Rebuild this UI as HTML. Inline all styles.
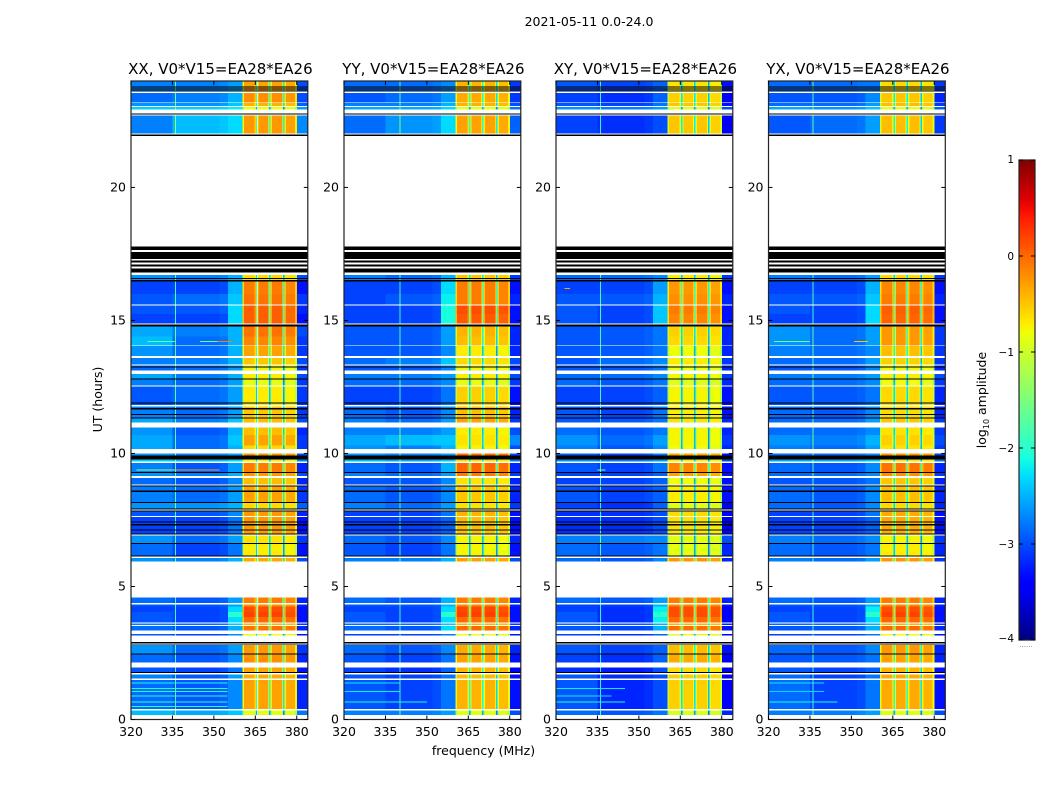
<!DOCTYPE html>
<html lang="en">
<head>
<meta charset="utf-8">
<title>2021-05-11 0.0-24.0</title>
<style>
html,body{margin:0;padding:0;background:#fff;}
svg{display:block;font-family:"DejaVu Sans","Liberation Sans",sans-serif;fill:#000;}
</style>
</head>
<body>
<svg id="chart" xmlns="http://www.w3.org/2000/svg" width="1050" height="800" viewBox="0 0 1050 800">
<rect width="1050" height="800" fill="#fff"/>
<text x="589" y="26" font-size="12.5" text-anchor="middle">2021-05-11 0.0-24.0</text>
<text x="483.5" y="755" font-size="12.5" text-anchor="middle">frequency (MHz)</text>
<text x="102" y="399.5" font-size="12.5" text-anchor="middle" transform="rotate(-90 102 399.5)">UT (hours)</text>
<text x="986" y="400" font-size="12.5" text-anchor="middle" transform="rotate(-90 986 400)">log<tspan font-size="8" dy="3">10</tspan><tspan dy="-3"> amplitude</tspan></text>
<text x="1026" y="647" font-size="7" fill="#777" text-anchor="middle">......</text>
</svg>
<script>
const panelTitles = ["XX, V0*V15=EA28*EA26","YY, V0*V15=EA28*EA26","XY, V0*V15=EA28*EA26","YX, V0*V15=EA28*EA26"];
const freqTicks = [320,335,350,365,380];
const hourTicks = [0,5,10,15,20];
const colorTicks = [-4,-3,-2,-1,0,1];
const spurFreqs = [336,340,336,336];

/* spectral channel groups: [start MHz, end MHz, level group, offset in log10 amplitude]
   group 0 = left low band, 1 = mid low band, 2 = shoulder, 3 = high band */
const channels = [
[320,335,0,-0.15],[335,352,1,-0.15],[352,355.2,1,-0.1],[355.2,360.4,2,-0.1],
[360.4,360.9,3,-0.4],[360.9,364.7,3,0.1],[364.7,365.2,3,-0.2],[365.2,365.7,3,-1.6],[365.7,366.2,3,-0.35],
[366.2,369.6,3,0.1],[369.6,370,3,-0.2],[370,370.5,3,-1.6],[370.5,371,3,-0.3],[371,374.7,3,0.1],
[374.7,375,3,-0.2],[375,375.6,3,-1.8],[375.6,376.1,3,-0.3],[376.1,379.4,3,0.05],[379.4,380,3,-0.35],
[380,384,1,-0.4]];

/* observed time bands in UT hours; the gaps between them are flagged (white) */
const timeBands = [
[.17,.33],[.39,1.485],[1.55,1.70],[1.78,1.96],[2.135,2.46],[2.46,2.80],[3.15,3.21],[3.34,3.51],[3.55,3.60],
[3.65,3.85],[3.85,4.05],[4.05,4.25],[4.25,4.33],[4.37,4.58],[5.93,6.07],[6.12,6.59],[6.59,6.91],[6.96,7.62],
[7.65,7.85],[7.90,8.15],[8.15,8.75],[8.84,9.07],[9.15,9.31],[9.31,9.65],[9.69,9.80],[9.90,10.0],[10.17,10.3],
[10.3,10.7],[10.7,10.98],[11.16,11.35],[11.35,11.76],[11.82,12.51],[12.55,12.80],[12.80,12.99],[13.11,13.31],
[13.35,13.59],[13.66,14.03],[14.06,14.4],[14.4,14.77],[14.89,15.25],[15.25,15.57],[15.60,16.0],[16.0,16.46],
[16.46,16.71],[22.03,22.71],[22.93,23.03],[23.06,23.17],[23.19,23.55],[23.60,24]];

/* zero-amplitude (black) scans in UT hours */
const blackBands = [
[1.74,1.78],[2.46,2.49],[2.82,2.85],[2.89,2.92],[6.12,6.16],[6.59,6.63],[6.96,7.0],[7.12,7.15],[7.30,7.34],[7.40,7.44],
[7.82,7.86],[7.90,7.94],[8.13,8.17],[8.56,8.60],[8.75,8.80],[9.26,9.31],[9.78,9.92],[11.31,11.35],[11.45,11.49],[11.66,11.70],
[11.89,11.92],[12.79,12.82],[13.23,13.26],[14.77,14.85],[16.46,16.52],[16.56,16.59],[16.80,16.96],[17.02,17.10],[17.17,17.25],
[17.30,17.57],[17.65,17.77],[21.93,21.98],[22.75,22.78],[23.60,23.64],[23.68,23.72],[23.763,23.80]];

/* per band: [left low band, mid low band, shoulder, high band] in log10 amplitude */
const levelsXX = [
[-2.3,-2.4,-2.3,-.95],[-2.7,-2.8,-2.6,-.4],[-2.6,-2.8,-2.5,-.45],[-2.8,-2.9,-2.7,-.4],[-2.7,-2.8,-2.6,-.3],[-2.5,-2.7,-2.5,-.35],
[-2.8,-2.9,-2.6,-.9],[-2.7,-2.8,-2.4,-.15],[-2.6,-2.7,-2.3,-.5],[-2.8,-2.9,-2.2,-.1],[-2.8,-2.9,-1.9,.1],[-2.9,-2.9,-2.2,.05],
[-2.8,-2.8,-2.5,-.3],[-2.7,-2.8,-2.5,-.2],[-2.5,-2.6,-2.4,-.45],[-2.7,-2.9,-2.7,-.8],[-2.5,-2.7,-2.5,-.75],[-2.9,-2.9,-2.7,-.35],
[-2.8,-2.8,-2.6,-.35],[-2.5,-2.5,-2.4,-.7],[-2.6,-2.7,-2.5,-.4],[-2.7,-2.8,-2.6,-.55],[-2.5,-2.6,-2.4,-.35],[-2.6,-2.8,-2.5,-.2],
[-2.2,-2.3,-2.2,-.8],[-2.5,-2.6,-2.5,-.3],[-2.4,-2.7,-2.4,-.7],[-2.4,-2.7,-2.3,-.4],[-2.5,-2.8,-2.4,-.55],[-2.4,-2.6,-2.3,-.55],
[-2.6,-2.7,-2.5,-.6],[-2.8,-2.7,-2.5,-.8],[-2.6,-2.7,-2.5,-.95],[-2.4,-2.6,-2.4,-.8],[-2.7,-2.7,-2.5,-.85],[-2.6,-2.6,-2.4,-.6],
[-2.5,-2.7,-2.4,-.4],[-2.3,-2.7,-2.4,-.25],[-2.4,-2.6,-2.4,-.15],[-2.9,-2.9,-2.2,-.05],[-2.8,-2.8,-2.2,-.05],[-2.8,-2.7,-2.3,-.15],
[-2.9,-2.9,-2.4,-.2],[-2.5,-2.6,-2.4,-.7],[-2.6,-2.3,-2.2,-.35],[-2.2,-2.2,-2.1,-.9],[-2.5,-2.5,-2.3,-.5],[-2.7,-2.6,-2.4,-.3],
[-2.6,-2.6,-2.5,-.4]];
const levelsYY = [
[-2.6,-2.6,-2.5,-.95],[-2.8,-2.9,-2.7,-.5],[-2.8,-2.9,-2.7,-.55],[-2.9,-3,-2.8,-.5],[-2.8,-2.9,-2.7,-.4],[-2.7,-2.8,-2.6,-.45],
[-2.9,-2.9,-2.7,-.9],[-2.7,-2.8,-2.2,-.1],[-2.7,-2.7,-2.3,-.5],[-2.8,-2.9,-2.2,-.1],[-2.8,-2.9,-1.9,.12],[-2.9,-2.9,-2.2,.08],
[-2.8,-2.8,-2.4,-.25],[-2.7,-2.8,-2.4,-.2],[-2.6,-2.6,-2.4,-.4],[-2.8,-2.9,-2.7,-.85],[-2.7,-2.8,-2.6,-.85],[-2.9,-2.9,-2.8,-.55],
[-2.9,-2.9,-2.7,-.5],[-2.6,-2.7,-2.5,-.75],[-2.7,-2.8,-2.6,-.6],[-2.8,-2.8,-2.6,-.75],[-2.6,-2.7,-2.5,-.2],[-2.7,-2.8,-2.4,-.08],
[-2.3,-2.4,-2.3,-.7],[-2.5,-2.6,-2.5,-.1],[-2.5,-2.6,-2.4,-.85],[-2.4,-2.3,-2.3,-.75],[-2.6,-2.6,-2.5,-.8],[-2.6,-2.7,-2.5,-.4],
[-2.7,-2.8,-2.6,-.55],[-2.9,-2.9,-2.7,-.65],[-2.7,-2.7,-2.6,-.95],[-2.6,-2.6,-2.5,-.8],[-2.8,-2.8,-2.6,-.85],[-2.7,-2.6,-2.3,-.7],
[-2.8,-2.8,-2.6,-.8],[-2.8,-2.8,-2.5,-.55],[-2.8,-2.8,-2.5,-.5],[-2.9,-2.9,-2.0,-.02],[-2.9,-2.9,-2.0,.05],[-2.9,-2.8,-2.1,-.2],
[-2.9,-2.9,-2.2,-.2],[-2.6,-2.7,-2.4,-.6],[-2.7,-2.5,-2.2,-.4],[-2.4,-2.4,-2.2,-.9],[-2.6,-2.6,-2.4,-.5],[-2.8,-2.7,-2.5,-.45],
[-2.7,-2.7,-2.6,-.5]];
const levelsXY = [
[-2.7,-2.8,-2.7,-1],[-2.8,-3.05,-2.9,-.65],[-2.8,-3,-2.9,-.65],[-3,-3.1,-2.9,-.7],[-2.9,-3,-2.8,-.45],[-2.8,-2.9,-2.8,-.55],
[-2.9,-3,-2.8,-.95],[-2.8,-2.9,-2.4,-.12],[-2.7,-2.8,-2.4,-.5],[-2.8,-3,-2.1,-.1],[-2.8,-3,-1.9,.05],[-2.9,-3,-2.1,.05],
[-2.9,-2.9,-2.4,-.25],[-2.7,-2.8,-2.5,-.2],[-2.7,-2.8,-2.6,-.35],[-2.7,-2.8,-2.7,-.95],[-2.6,-2.6,-2.6,-.95],[-3,-3,-2.9,-.75],
[-3,-3,-2.9,-.7],[-2.9,-3,-2.8,-.95],[-2.8,-2.9,-2.8,-.8],[-2.9,-2.9,-2.8,-.9],[-2.9,-2.9,-2.8,-.4],[-2.8,-2.9,-2.7,-.25],
[-2.5,-2.6,-2.5,-.8],[-2.8,-2.9,-2.7,-.4],[-2.6,-2.8,-2.6,-.9],[-2.5,-2.7,-2.5,-.85],[-2.7,-2.8,-2.7,-.85],[-2.8,-2.8,-2.7,-.75],
[-2.8,-2.9,-2.7,-.8],[-2.9,-2.9,-2.8,-.85],[-2.7,-2.8,-2.7,-1],[-2.7,-2.7,-2.6,-.85],[-2.8,-2.8,-2.7,-.9],[-2.8,-2.7,-2.6,-.8],
[-2.8,-2.8,-2.7,-.9],[-2.8,-2.8,-2.7,-.7],[-2.8,-2.8,-2.7,-.65],[-2.8,-2.9,-2.3,-.25],[-2.8,-2.9,-2.3,-.2],[-2.8,-2.8,-2.4,-.3],
[-2.9,-2.9,-2.5,-.35],[-2.7,-2.7,-2.6,-.8],[-2.9,-3,-2.9,-.6],[-2.5,-2.6,-2.5,-.95],[-2.8,-2.9,-2.7,-.6],[-2.9,-3,-2.8,-.65],
[-2.8,-2.9,-2.8,-.75]];
const levelsYX = [
[-2.6,-2.6,-2.5,-.95],[-2.7,-2.9,-2.7,-.45],[-2.7,-2.9,-2.7,-.45],[-2.8,-2.9,-2.8,-.5],[-2.8,-2.8,-2.7,-.4],[-2.7,-2.8,-2.6,-.35],
[-2.9,-2.9,-2.7,-.9],[-2.8,-2.8,-2.4,-.1],[-2.7,-2.7,-2.4,-.5],[-2.8,-2.9,-2.2,-.08],[-2.8,-2.9,-1.9,.1],[-2.9,-2.9,-2.1,.05],
[-2.8,-2.8,-2.4,-.25],[-2.7,-2.8,-2.5,-.2],[-2.6,-2.7,-2.5,-.35],[-2.7,-2.8,-2.7,-.8],[-2.6,-2.7,-2.6,-.85],[-2.9,-2.9,-2.8,-.45],
[-2.9,-2.9,-2.7,-.45],[-2.7,-2.8,-2.6,-.7],[-2.7,-2.8,-2.6,-.55],[-2.8,-2.8,-2.7,-.6],[-2.7,-2.7,-2.6,-.3],[-2.7,-2.8,-2.6,-.15],
[-2.4,-2.4,-2.3,-.75],[-2.7,-2.7,-2.6,-.3],[-2.6,-2.7,-2.5,-.75],[-2.5,-2.6,-2.4,-.65],[-2.7,-2.7,-2.6,-.75],[-2.7,-2.7,-2.5,-.6],
[-2.7,-2.8,-2.6,-.7],[-2.8,-2.8,-2.7,-.7],[-2.7,-2.7,-2.6,-.9],[-2.6,-2.6,-2.5,-.8],[-2.8,-2.8,-2.6,-.85],[-2.7,-2.7,-2.5,-.65],
[-2.6,-2.7,-2.6,-.55],[-2.5,-2.7,-2.5,-.35],[-2.5,-2.7,-2.5,-.35],[-2.9,-2.9,-2.2,-.08],[-2.8,-2.9,-2.2,-.05],[-2.8,-2.8,-2.3,-.2],
[-2.9,-2.9,-2.4,-.25],[-2.6,-2.7,-2.5,-.7],[-2.8,-2.7,-2.5,-.55],[-2.4,-2.5,-2.3,-.9],[-2.7,-2.7,-2.5,-.55],[-2.8,-2.8,-2.6,-.6],
[-2.7,-2.7,-2.7,-.7]];

/* narrow features: [panel index, UT hour, start MHz, end MHz, log10 amplitude] */
const streaks = [
[0,14.2,351.4,357,-.1],[0,14.2,326,336,-1.7],[0,14.2,345,351.4,-1.6],[0,9.37,336,352,-.3],[0,9.37,322,336,-1.2],
[0,.48,320,355,-2],[0,.65,320,355,-1.9],[0,.88,320,355,-2],[0,1.05,320,355,-2.1],[0,1.17,320,355,-2.1],[0,1.38,320,355,-2.1],
[1,.65,320,350,-2.1],[1,1.05,320,340,-2.2],[1,1.38,320,340,-2.2],
[2,.65,320,345,-2],[2,.88,320,340,-2.2],[2,1.17,320,345,-2.2],[2,9.37,335,338,-1.2],[2,16.2,323,325,-.3],
[3,14.2,322,335,-1.6],[3,14.2,351,356,-.5],[3,.65,320,345,-2.1],[3,1.05,320,340,-2.3],[3,1.38,320,340,-2.2]];

const panelLevels = [levelsXX,levelsYY,levelsXY,levelsYX];
const panelKeys = ["xx","yy","xy","yx"];
const panelLefts = [131,344,556,768.5];
const panelWidth = 176.8, plotTop = 81, plotBottom = 719.5;
const freqMin = 320, freqMax = 384, hourMax = 24;
const cbLeft = 1019, cbRight = 1035, cbTop = 160, cbBottom = 640, cbMin = -4, cbMax = 1;
const SVGNS = "http://www.w3.org/2000/svg";
const svg = document.getElementById("chart");

function xScale(p,f){return panelLefts[p]+(f-freqMin)/(freqMax-freqMin)*panelWidth;}
function yScale(t){return plotBottom-t/hourMax*(plotBottom-plotTop);}
function cbScale(v){return cbBottom-(v-cbMin)/(cbMax-cbMin)*(cbBottom-cbTop);}
function ramp(t,pts){
  for(let i=1;i<pts.length;i++){
    if(t<=pts[i][0]){const a=pts[i-1],b=pts[i];return a[1]+(b[1]-a[1])*(t-a[0])/(b[0]-a[0]);}
  }
  return pts[pts.length-1][1];
}
function jet(v){
  const t=Math.max(0,Math.min(1,(v-cbMin)/(cbMax-cbMin)));
  const r=ramp(t,[[0,0],[.35,0],[.66,1],[.89,1],[1,.5]]);
  const g=ramp(t,[[0,0],[.125,0],[.375,1],[.64,1],[.91,0],[1,0]]);
  const b=ramp(t,[[0,.5],[.11,1],[.34,1],[.65,0],[1,0]]);
  return "rgb("+Math.round(r*255)+","+Math.round(g*255)+","+Math.round(b*255)+")";
}
function rect(parent,x,y,w,h,fill){
  const el=document.createElementNS(SVGNS,"rect");
  el.setAttribute("x",x.toFixed(2));
  el.setAttribute("y",y.toFixed(2));
  el.setAttribute("width",w.toFixed(2));
  el.setAttribute("height",h.toFixed(2));
  el.setAttribute("fill",fill);
  parent.appendChild(el);
  return el;
}
function line(parent,x1,y1,x2,y2){
  const el=document.createElementNS(SVGNS,"line");
  el.setAttribute("x1",x1);
  el.setAttribute("y1",y1);
  el.setAttribute("x2",x2);
  el.setAttribute("y2",y2);
  el.setAttribute("stroke","#000");
  el.setAttribute("stroke-width","1");
  parent.appendChild(el);
  return el;
}
function label(parent,x,y,str,size,anchor){
  const el=document.createElementNS(SVGNS,"text");
  el.setAttribute("x",x);
  el.setAttribute("y",y);
  el.setAttribute("font-size",size);
  el.setAttribute("text-anchor",anchor);
  el.textContent=str;
  parent.appendChild(el);
  return el;
}

panelTitles.forEach(function(title,p){
  const key=panelKeys[p];
  const left=panelLefts[p], right=left+panelWidth;
  const g=document.createElementNS(SVGNS,"g");
  
  
  svg.appendChild(g);

  const heat=document.createElementNS(SVGNS,"g");
  
  
  heat.setAttribute("shape-rendering","crispEdges");
  g.appendChild(heat);

  timeBands.forEach(function(band,b){
    const lv=panelLevels[p][b];
    const y0=yScale(band[1]), y1=yScale(band[0]);
    channels.forEach(function(ch){
      const x0=xScale(p,ch[0]), x1=xScale(p,ch[1]);
      const cell=rect(heat,x0,y0,x1-x0,y1-y0,jet(lv[ch[2]]+ch[3]));
      
      
    });
    const sx=xScale(p,spurFreqs[p]);
    const spur=rect(heat,sx,y0,1,y1-y0,jet(lv[1]+1));
    
    
  });
  streaks.forEach(function(s){
    if(s[0]!==p) return;
    const x0=xScale(p,s[2]), x1=xScale(p,s[3]);
    const mark=rect(heat,x0,yScale(s[1])-.5,x1-x0,1,jet(s[4]));
    
    
  });
  blackBands.forEach(function(band){
    const y0=yScale(band[1]), y1=yScale(band[0]);
    const bar=rect(heat,left,y0,panelWidth,Math.max(1,y1-y0),"#000");
    
    
  });

  const frame=document.createElementNS(SVGNS,"rect");
  frame.setAttribute("x",left);
  frame.setAttribute("y",plotTop);
  frame.setAttribute("width",panelWidth);
  frame.setAttribute("height",plotBottom-plotTop);
  frame.setAttribute("fill","none");
  frame.setAttribute("stroke","#222");
  frame.setAttribute("stroke-width","1.2");
  
  
  g.appendChild(frame);

  const ttl=label(g,left+panelWidth/2+1,74,title,15,"middle");
  
  

  freqTicks.forEach(function(f){
    const x=xScale(p,f);
    const t1=line(g,x,plotBottom,x,plotBottom-4);
    
    
    const t2=line(g,x,plotTop,x,plotTop+4);
    
    
    const tx=label(g,x,736,String(f),12.5,"middle");
    
    
  });
  hourTicks.forEach(function(h){
    const y=yScale(h);
    const t1=line(g,left,y,left+4,y);
    
    
    const t2=line(g,right,y,right-4,y);
    
    
    const tx=label(g,left-5,y+4,String(h),12.5,"end");
    
    
  });
});

const cb=document.createElementNS(SVGNS,"g");


svg.appendChild(cb);
const cbGrad=document.createElementNS(SVGNS,"linearGradient");
cbGrad.setAttribute("id","jetGrad");
cbGrad.setAttribute("x1","0");
cbGrad.setAttribute("y1","1");
cbGrad.setAttribute("x2","0");
cbGrad.setAttribute("y2","0");
for(let i=0;i<=50;i++){
  const stop=document.createElementNS(SVGNS,"stop");
  stop.setAttribute("offset",(i/50).toFixed(3));
  stop.setAttribute("stop-color",jet(cbMin+(cbMax-cbMin)*i/50));
  cbGrad.appendChild(stop);
}
cb.appendChild(cbGrad);
const cbBody=rect(cb,cbLeft,cbTop,cbRight-cbLeft,cbBottom-cbTop,"url(#jetGrad)");


cbBody.setAttribute("stroke","#222");
cbBody.setAttribute("stroke-width","1.2");
colorTicks.forEach(function(v){
  const y=cbScale(v);
  const t1=line(cb,cbLeft,y,cbLeft+4,y);
  
  
  const t2=line(cb,cbRight,y,cbRight-4,y);
  
  
  const tx=label(cb,1014,y+(v===1?3:v===-4?2:4),(v<0?"\u2212"+(-v):String(v)),10.5,"end");
  
  
});
</script>
</body>
</html>
